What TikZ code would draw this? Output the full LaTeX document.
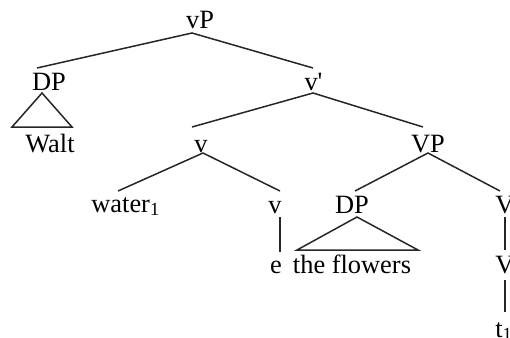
\documentclass[tikz,border=0pt]{standalone}
\usepackage{fontspec}
\setmainfont{Liberation Serif}
\begin{document}
\begin{tikzpicture}[x=0.5pt,y=-0.5pt,
  lbl/.style={inner sep=0pt,anchor=base,font=\fontsize{13.2}{15}\selectfont},
  lblw/.style={lbl,anchor=base west},
  br/.style={line width=0.75pt,draw=black!85}]
\useasboundingbox (0,0) rectangle (510,338);
\clip (0,0) rectangle (510,338);
% labels
\node[lbl] (vP) at (200,28) {vP};
\node[lbl] (DPa) at (49,90) {DP};
\node[lbl] (walt) at (50,152) {Walt};
\node[lbl] (vbar) at (313.5,90) {v\textquotesingle};
\node[lbl] (v) at (201,152) {v};
\node[lbl] (VP) at (428,152) {VP};
\node[lblw] (water) at (91,212) {water\textsubscript{1}};
\node[lbl] (vb) at (275,213) {v};
\node[lbl] (DPb) at (352,213) {DP};
\node[lbl] (Va) at (505,213) {V};
\node[lbl] (e) at (276,273) {e};
\node[lbl] (fl) at (352,273) {the flowers};
\node[lbl] (Vb) at (505,273) {V};
\node[lblw] (t) at (495,337) {t\textsubscript{1}};
% branch points
\coordinate (vP-b) at (192,33);
\coordinate (DPa-t) at (37,68);
\coordinate (vbar-t) at (313,68);
\coordinate (vbar-b) at (313,93);
\coordinate (v-t) at (192,127);
\coordinate (VP-t) at (423,127);
\coordinate (v-b) at (203,153);
\coordinate (water-t) at (118,191);
\coordinate (vb-t) at (280,191);
\coordinate (vb-b) at (280,217);
\coordinate (e-t) at (280,252);
\coordinate (VP-b) at (428,153);
\coordinate (DPb-t) at (355,191);
\coordinate (Va-t) at (500,191);
\coordinate (Va-b) at (505,217);
\coordinate (Vb-t) at (505,250);
\coordinate (Vb-b) at (505,280);
\coordinate (t-t) at (505,312);
\coordinate (triA) at (42,93);
\coordinate (triAl) at (12,127);
\coordinate (triAr) at (72,127);
\coordinate (triB) at (357,217);
\coordinate (triBl) at (297,250);
\coordinate (triBr) at (418,250);
% branches
\draw[br] (DPa-t) -- (vP-b) -- (vbar-t);
\draw[br] (v-t) -- (vbar-b) -- (VP-t);
\draw[br] (water-t) -- (v-b) -- (vb-t);
\draw[br] (vb-b) -- (e-t);
\draw[br] (DPb-t) -- (VP-b) -- (Va-t);
\draw[br] (Va-b) -- (Vb-t);
\draw[br] (Vb-b) -- (t-t);
\draw[br,line join=miter] (triA) -- (triAl) -- (triAr) -- cycle;
\draw[br,line join=miter] (triB) -- (triBl) -- (triBr) -- cycle;
\end{tikzpicture}
\end{document}
